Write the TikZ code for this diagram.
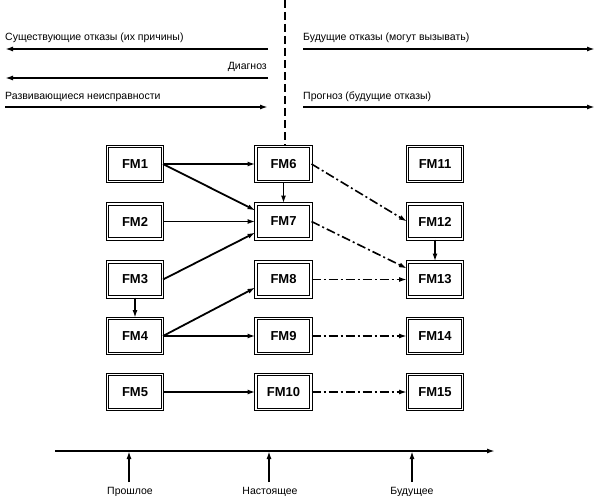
\documentclass[tikz,border=0pt]{standalone}
\usepackage{fontspec}
\setmainfont{Liberation Sans}
\usetikzlibrary{arrows.meta}
\begin{document}
\begin{tikzpicture}[x=1pt,y=-1pt,
  fm/.style={draw, double, line width=1pt, double distance=1.6pt, minimum width=55pt, minimum height=35pt, inner sep=0pt, font=\fontsize{13}{15}\selectfont\bfseries},
  lbl/.style={font=\fontsize{10.5}{12}\selectfont, inner sep=0pt},
  tip/.style={-{Latex[length=8pt,width=5pt]}},
  big/.style={tip, line width=2.4pt},
  sol/.style={tip, line width=1.8pt},
  dd/.style={tip, line width=1.6pt, dash pattern=on 9pt off 3pt on 2pt off 3pt}
]
\useasboundingbox (0,0) rectangle (596,495);
% boxes
\node[fm] (fm1) at (135,164) {FM1};
\node[fm] (fm2) at (135,221.5) {FM2};
\node[fm] (fm3) at (135,279.5) {FM3};
\node[fm] (fm4) at (135,336) {FM4};
\node[fm] (fm5) at (135,392) {FM5};
\node[fm] (fm6) at (283.5,164) {FM6};
\node[fm] (fm7) at (283.5,221.5) {FM7};
\node[fm] (fm8) at (283.5,279.5) {FM8};
\node[fm] (fm9) at (283.5,336) {FM9};
\node[fm] (fm10) at (283.5,392) {FM10};
\node[fm] (fm11) at (435,164) {FM11};
\node[fm] (fm12) at (435,221.5) {FM12};
\node[fm] (fm13) at (435,279.5) {FM13};
\node[fm] (fm14) at (435,336) {FM14};
\node[fm] (fm15) at (435,392) {FM15};
% vertical dashed line
\coordinate (vtop) at (285,0);
\draw[line width=1.8pt, dash pattern=on 8pt off 4pt] (vtop) -- (fm6.north -| vtop);
% top arrows
\coordinate (l1s) at (268,49); \coordinate (l1e) at (5,49);
\coordinate (l2s) at (268,78); \coordinate (l2e) at (5,78);
\coordinate (l3s) at (5,107); \coordinate (l3e) at (268,107);
\coordinate (r1s) at (303,49); \coordinate (r1e) at (595,49);
\coordinate (r3s) at (303,107); \coordinate (r3e) at (595,107);
\draw[big] (l1s) -- (l1e);
\draw[big] (l2s) -- (l2e);
\draw[big] (l3s) -- (l3e);
\draw[big] (r1s) -- (r1e);
\draw[big] (r3s) -- (r3e);
\node[lbl, anchor=base west] (t1) at (5,41) {Существующие отказы (их причины)};
\node[lbl, anchor=base east] (t2) at (267,70) {Диагноз};
\node[lbl, anchor=base west] (t3) at (5,99) {Развивающиеся неисправности};
\node[lbl, anchor=base west] (t4) at (303,41) {Будущие отказы (могут вызывать)};
\node[lbl, anchor=base west] (t5) at (303,99) {Прогноз (будущие отказы)};
% solid arrows
\draw[sol] (fm1.east) -- (fm6.west);
\draw[sol] (fm1.east) -- ([yshift=11pt]fm7.west);
\draw[sol] (fm2.east) -- (fm7.west);
\draw[sol] (fm3.east) -- ([yshift=-11pt]fm7.west);
\draw[sol] (fm6.south) -- (fm7.north);
\draw[sol] (fm3.south) -- (fm4.north);
\draw[sol] (fm4.east) -- ([yshift=-8pt]fm8.west);
\draw[sol] (fm4.east) -- (fm9.west);
\draw[sol] (fm5.east) -- (fm10.west);
\draw[sol] (fm12.south) -- (fm13.north);
% dash-dot arrows
\draw[dd] (fm6.east) -- (fm12.west);
\draw[dd] (fm7.east) -- ([yshift=11pt]fm13.west);
\draw[dd] (fm8.east) -- (fm13.west);
\draw[dd] (fm9.east) -- (fm14.west);
\draw[dd] (fm10.east) -- (fm15.west);
% timeline
\coordinate (ts) at (55,451); \coordinate (te) at (495,451);
\draw[big] (ts) -- (te);
\coordinate (p1) at (129,482); \coordinate (p2) at (269,482); \coordinate (p3) at (412,482);
\draw[sol, line width=2pt] (p1) -- (p1 |- ts);
\draw[sol, line width=2pt] (p2) -- (p2 |- ts);
\draw[sol, line width=2pt] (p3) -- (p3 |- ts);
\node[lbl, anchor=base] (b1) at (130,494) {Прошлое};
\node[lbl, anchor=base] (b2) at (270,494) {Настоящее};
\node[lbl, anchor=base] (b3) at (412,494) {Будущее};
\end{tikzpicture}
\end{document}
